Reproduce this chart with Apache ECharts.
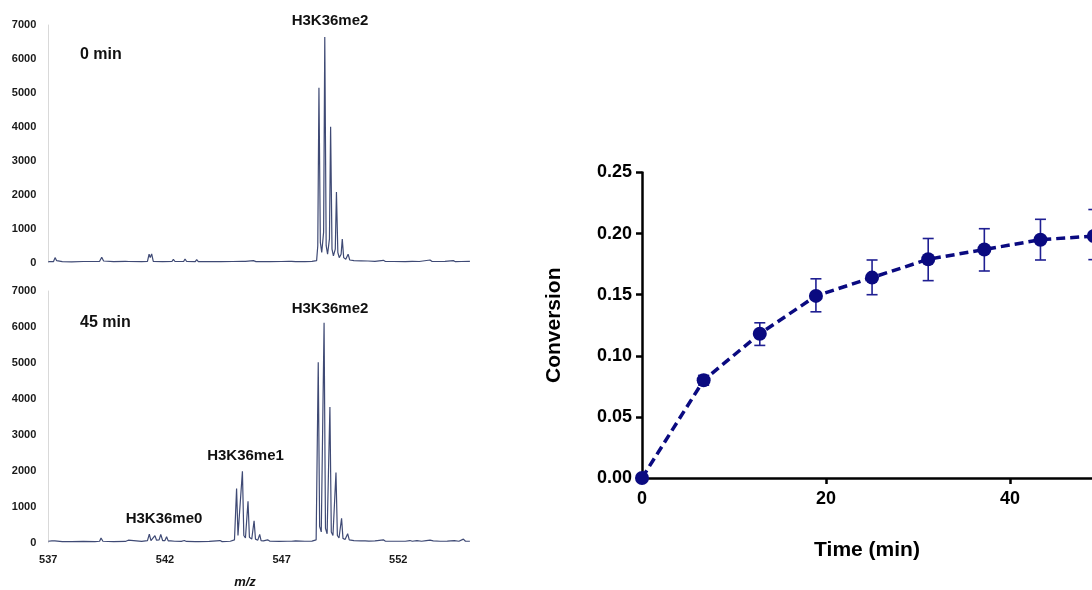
<!DOCTYPE html>
<html>
<head>
<meta charset="utf-8">
<script src="https://cdn.jsdelivr.net/npm/echarts@6/dist/echarts.min.js"></script>
<style>html,body{margin:0;padding:0;background:#fff;}#c{width:1092px;height:590px;}</style>
</head>
<body>
<div id="c"></div>
<script>
// ---- Data ----
// Mass spectrum at 0 min: [m/z, intensity]
var spec0min = [
 [537.0,30],[537.22,30],[537.29,150],[537.36,60],[537.6,30],[538.0,25],[538.5,35],[539.2,40],[539.29,160],[539.37,50],
 [539.8,30],[540.3,40],[540.36,70],[540.45,35],[541.0,30],[541.25,40],[541.32,250],[541.37,150],[541.43,260],[541.5,40],
 [541.9,30],[542.3,35],[542.36,100],[542.43,35],[542.8,35],[542.86,110],[542.93,35],[543.3,30],[543.36,90],[543.43,30],
 [543.9,35],[544.4,30],[544.9,35],[545.3,40],[545.36,90],[545.45,40],[545.79,60],[545.9,30],[546.5,30],[547.0,35],
 [547.3,40],[547.36,70],[547.43,40],[547.5,60],[547.6,30],[548.0,30],[548.3,40],[548.5,60],
 [548.55,500],[548.6,5150],[548.66,600],[548.72,300],[548.8,900],[548.85,6650],[548.91,500],[548.97,250],
 [549.05,700],[549.1,4000],[549.16,400],[549.22,200],[549.3,400],[549.35,2080],[549.41,300],[549.47,150],
 [549.55,250],[549.6,700],[549.66,150],[549.75,100],[549.85,250],[549.92,80],[550.1,60],[550.4,55],[550.7,50],
 [551.0,40],[551.36,70],[551.45,35],[551.8,35],[552.3,30],[552.6,40],[552.9,35],[553.36,80],[553.45,35],[553.8,35],
 [554.0,40],[554.36,60],[554.45,30],[554.7,35],[555.07,40]
];
// Mass spectrum at 45 min: [m/z, intensity]
var spec45min = [
 [537.0,40],[537.15,50],[537.21,90],[537.28,50],[537.6,30],[538.0,30],[538.5,35],[539.0,30],[539.2,40],[539.26,130],
 [539.34,40],[539.8,30],[540.3,35],[540.43,70],[540.5,35],[541.0,35],[541.25,60],
 [541.33,240],[541.4,60],[541.47,80],[541.57,195],[541.64,70],[541.75,80],[541.82,230],[541.9,60],[542.0,60],
 [542.07,165],[542.14,50],[542.25,50],[542.33,100],[542.42,40],[542.7,35],[542.83,60],[542.92,35],[543.3,30],
 [543.36,60],[543.45,30],[543.9,35],[544.36,60],[544.45,30],[544.8,40],[544.98,80],
 [545.07,1510],[545.13,200],[545.2,150],[545.32,1985],[545.38,200],[545.45,130],[545.56,1150],[545.62,150],
 [545.72,100],[545.82,610],[545.88,100],[545.98,70],[546.06,230],[546.12,60],[546.22,50],[546.3,90],[546.4,80],
 [546.5,40],[546.9,35],[547.25,40],[547.33,70],[547.42,40],[547.6,50],[548.0,40],[548.3,45],[548.48,80],
 [548.57,5015],[548.63,450],[548.7,300],[548.82,6120],[548.88,400],[548.95,250],[549.07,3775],[549.13,300],
 [549.2,200],[549.33,1950],[549.39,200],[549.46,130],[549.57,680],[549.63,120],[549.72,90],[549.83,250],[549.9,80],
 [550.1,60],[550.4,50],[550.58,50],[550.65,80],[550.74,45],[551.0,50],[551.1,60],[551.36,80],[551.45,40],[551.8,40],
 [552.3,40],[552.5,60],[552.6,40],[552.8,60],[553.0,40],[553.2,60],[553.36,70],[553.5,50],[553.8,40],[554.1,45],
 [554.4,60],[554.6,40],[554.79,100],[554.88,40],[555.07,40]
];
// Conversion time course
var timeMin = [0, 6.7, 12.8, 18.9, 25.0, 31.1, 37.2, 43.3, 49.1];
var conversion = [0, 0.080, 0.118, 0.149, 0.164, 0.179, 0.187, 0.195, 0.198];
var errLow  = [0, 0.076, 0.1085, 0.136, 0.150, 0.1615, 0.1694, 0.1784, 0.1787];
var errHigh = [0, 0.084, 0.127, 0.163, 0.1784, 0.196, 0.204, 0.2117, 0.2197];
var mzTicks = [537, 542, 547, 552];
var convTicks = [0, 0.05, 0.10, 0.15, 0.20, 0.25];

// ---- Chart ----
var FONT = '"Liberation Sans", Arial, sans-serif';
var chart = echarts.init(document.getElementById('c'), null, {renderer: 'canvas'});
var lineData = timeMin.map(function (t, i) { return [t, conversion[i]]; });
var errData = timeMin.map(function (t, i) { return [t, errLow[i], errHigh[i]]; });

function specY(gi) {
  return {
    gridIndex: gi, type: 'value', min: 0, max: 7000, interval: 1000,
    axisLine: {show: true, lineStyle: {color: '#d9d9d9', width: 1}},
    axisTick: {show: false}, splitLine: {show: false},
    axisLabel: {color: '#1a1a1a', fontWeight: 'bold', fontSize: 11, fontFamily: FONT, margin: 12,
      formatter: function (v) { return String(v); }}
  };
}
function specX(gi, showLabel) {
  return {
    gridIndex: gi, type: 'value', min: mzTicks[0], max: 555.1, interval: 5,
    axisLine: {show: false}, axisTick: {show: false}, splitLine: {show: false},
    axisLabel: {show: showLabel, color: '#1a1a1a', fontWeight: 'bold', fontSize: 11, fontFamily: FONT, margin: 12,
      showMaxLabel: false, formatter: function (v) { return String(v); }}
  };
}
function txt(x, y, s, size, align, italic) {
  return {type: 'text', x: x, y: y, style: {text: s, fill: '#111', font: (italic ? 'italic ' : '') + 'bold ' + size + 'px ' + FONT,
    textAlign: align || 'center', textVerticalAlign: 'middle'}};
}

var option = {
  backgroundColor: '#fff',
  animation: false,
  grid: [
    {left: 48.3, top: 25, width: 422.3, height: 237.7},
    {left: 48.3, top: 291, width: 422.3, height: 251.7},
    {left: 642, top: 172.5, right: 0, height: 305.5}
  ],
  xAxis: [
    specX(0, false),
    specX(1, true),
    {
      gridIndex: 2, type: 'value', min: 0, max: 48.9, interval: 20,
      name: 'Time (min)', nameLocation: 'middle', nameGap: 62,
      nameTextStyle: {color: '#000', fontWeight: 'bold', fontSize: 21, fontFamily: FONT},
      axisLine: {show: true, lineStyle: {color: '#000', width: 2.5}},
      axisTick: {show: true, length: 6, lineStyle: {color: '#000', width: 2.5}},
      splitLine: {show: false},
      axisLabel: {color: '#000', fontWeight: 'bold', fontSize: 18, fontFamily: FONT, margin: 12, showMaxLabel: false}
    }
  ],
  yAxis: [
    specY(0),
    specY(1),
    {
      gridIndex: 2, type: 'value', min: convTicks[0], max: convTicks[convTicks.length - 1], interval: 0.05,
      name: 'Conversion', nameLocation: 'middle', nameGap: 77,
      nameTextStyle: {color: '#000', fontWeight: 'bold', fontSize: 21, fontFamily: FONT},
      axisLine: {show: true, lineStyle: {color: '#000', width: 2.5}},
      axisTick: {show: true, length: 6, lineStyle: {color: '#000', width: 2.5}},
      splitLine: {show: false},
      axisLabel: {color: '#000', fontWeight: 'bold', fontSize: 18, fontFamily: FONT, margin: 10,
        formatter: function (v) { return v.toFixed(2); }}
    }
  ],
  series: [
    {type: 'line', xAxisIndex: 0, yAxisIndex: 0, data: spec0min, showSymbol: false, symbol: 'none',
      lineStyle: {color: '#3f4a75', width: 1.2}},
    {type: 'line', xAxisIndex: 1, yAxisIndex: 1, data: spec45min, showSymbol: false, symbol: 'none',
      lineStyle: {color: '#3f4a75', width: 1.2}},
    {
      type: 'custom', xAxisIndex: 2, yAxisIndex: 2, data: errData, z: 1, clip: false,
      renderItem: function (params, api) {
        var x = api.value(0);
        var lo = api.coord([x, api.value(1)]);
        var hi = api.coord([x, api.value(2)]);
        var w = 5.5;
        var st = {stroke: '#1f1f92', lineWidth: 1.6};
        return {type: 'group', children: [
          {type: 'line', shape: {x1: lo[0], y1: lo[1], x2: hi[0], y2: hi[1]}, style: st},
          {type: 'line', shape: {x1: lo[0] - w, y1: lo[1], x2: lo[0] + w, y2: lo[1]}, style: st},
          {type: 'line', shape: {x1: hi[0] - w, y1: hi[1], x2: hi[0] + w, y2: hi[1]}, style: st}
        ]};
      }
    },
    {
      type: 'line', xAxisIndex: 2, yAxisIndex: 2, data: lineData, z: 3, clip: false,
      symbol: 'circle', symbolSize: 14,
      itemStyle: {color: '#0a0a80'},
      lineStyle: {color: '#0a0a80', width: 3.5, type: [9, 5]}
    }
  ],
  graphic: [
    txt(330, 21, 'H3K36me2', 15),
    txt(80, 55, '0 min', 16, 'left'),
    txt(80, 323, '45 min', 16, 'left'),
    txt(330, 309, 'H3K36me2', 15),
    txt(245.5, 456, 'H3K36me1', 15),
    txt(164, 519, 'H3K36me0', 15),
    txt(245, 582, 'm/z', 13, 'center', true)
  ]
};
chart.setOption(option);
</script>
</body>
</html>
